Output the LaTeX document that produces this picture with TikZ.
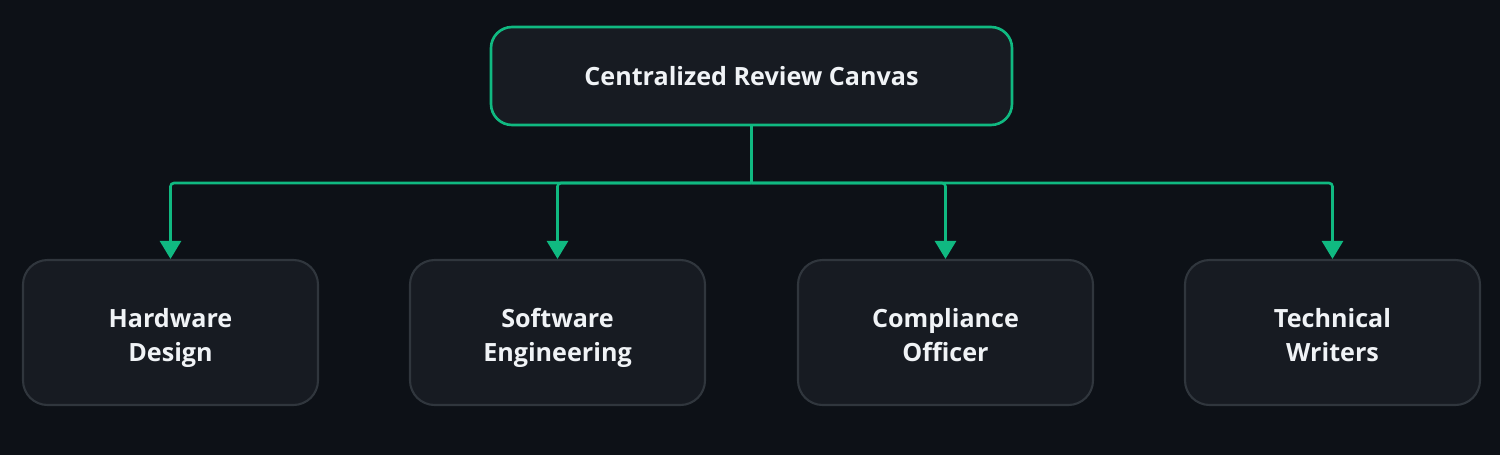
\documentclass[tikz,border=0pt]{standalone}
\usepackage{fontspec}
\setmainfont{Open Sans}
\usepackage{xcolor}
\usepackage{tikz}
\usetikzlibrary{arrows.meta,positioning,calc}
\definecolor{bgdark}{HTML}{0D1117}
\definecolor{boxfill}{HTML}{171B22}
\definecolor{boxline}{HTML}{30363D}
\definecolor{mint}{HTML}{10B981}
\definecolor{txt}{HTML}{F0F3F6}
\tikzset{
  blk/.style={draw=boxline, rounded corners=7pt, line width=.6pt, fill=boxfill, align=center, text=txt,
    font=\fontsize{7.15}{9.7}\selectfont\bfseries, minimum width=2.95cm, minimum height=1.45cm,
    text height=9.7pt+1.75ex, text depth=.45ex},
  blkt/.style={draw=mint, rounded corners=6pt, line width=.75pt, fill=boxfill, align=center, text=txt,
    font=\fontsize{7.15}{9.7}\selectfont\bfseries, minimum width=5.21cm, minimum height=.98cm},
  ln/.style={draw=mint, line width=.75pt, rounded corners=1pt},
  ar/.style={ln, -{Triangle[length=1.8mm, width=2.1mm]}},
}
\begin{document}
\begin{tikzpicture}
    \fill[bgdark] (0,0) rectangle (15,4.55);
    \useasboundingbox (0,0) rectangle (15,4.55);

    \node[blkt] (rc) at (7.515,3.79) {Centralized Review Canvas};

    \node[blk] (hw) at (1.705,1.225) {Hardware\\Design};
    \node[blk] (sw) at (5.575,1.225) {Software\\Engineering};
    \node[blk] (co) at (9.455,1.225) {Compliance\\Officer};
    \node[blk] (tw) at (13.325,1.225) {Technical\\Writers};

    \coordinate (bus) at (7.515,2.72);
    \draw[ln] (rc.south) -- (bus);
    \foreach \t in {hw,sw,co,tw}
      \draw[ar] (bus) -| (\t.north);
  \end{tikzpicture}
\end{document}
